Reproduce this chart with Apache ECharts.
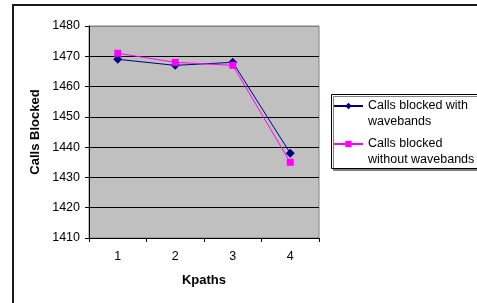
<!DOCTYPE html>
<html>
<head>
<meta charset="utf-8">
<script src="https://cdn.jsdelivr.net/npm/echarts@6/dist/echarts.min.js"></script>
<style>
html,body{margin:0;padding:0;background:#fff;}
#c{width:477px;height:303px;}
</style>
</head>
<body>
<div id="c"></div>
<script>
var categories = ['1', '2', '3', '4'];
var withWavebands = [1469, 1467, 1468, 1438];
var withoutWavebands = [1471, 1468, 1467, 1435];
var seriesNames = ['Calls blocked with\nwavebands', 'Calls blocked\nwithout wavebands'];
var yMin = 1410, yMax = 1480, yStep = 10;
var xTitle = 'Kpaths';
var yTitle = 'Calls Blocked';

var FONT = 'Liberation Sans, Arial, sans-serif';
var chart = echarts.init(document.getElementById('c'), null, {renderer: 'canvas'});
chart.setOption({
  animation: false,
  backgroundColor: '#fff',
  textStyle: {fontFamily: FONT},
  graphic: [
    {type: 'rect', z: 0, silent: true,
     shape: {x: 13, y: 5, width: 480, height: 320},
     style: {fill: 'none', stroke: '#1a1a1a', lineWidth: 2}},
    {type: 'rect', z: 1, silent: true,
     shape: {x: 331.5, y: 94.5, width: 160, height: 74},
     style: {fill: '#fff', stroke: '#000', lineWidth: 1,
             shadowColor: '#808080', shadowOffsetX: 2, shadowOffsetY: 2, shadowBlur: 0}}
  ],
  grid: {left: 89, top: 26, right: 158, bottom: 65, show: true,
         backgroundColor: '#c0c0c0', borderColor: '#808080', borderWidth: 1},
  legend: {
    orient: 'vertical', left: 333, top: 82, padding: 0,
    itemWidth: 29, itemHeight: 8, itemGap: -10,
    selectedMode: false,
    data: seriesNames,
    formatter: function (n) { return ' \n' + n; },
    textStyle: {fontFamily: FONT, fontSize: 12.5, color: '#000', lineHeight: 16}
  },
  xAxis: {
    type: 'category', data: categories, boundaryGap: true,
    name: xTitle, nameLocation: 'middle', nameGap: 36,
    nameTextStyle: {fontFamily: FONT, fontSize: 13, fontWeight: 'bold', color: '#000'},
    axisLine: {lineStyle: {color: '#000', width: 1}},
    axisTick: {show: true, length: 4, inside: false, lineStyle: {color: '#000'}},
    axisLabel: {fontFamily: FONT, fontSize: 12.5, color: '#000', margin: 12},
    splitLine: {show: false}
  },
  yAxis: {
    type: 'value', min: yMin, max: yMax, interval: yStep,
    name: yTitle, nameLocation: 'middle', nameGap: 47, nameRotate: 90,
    nameTextStyle: {fontFamily: FONT, fontSize: 13, fontWeight: 'bold', color: '#000'},
    axisLine: {show: true, lineStyle: {color: '#000', width: 1}},
    axisTick: {show: true, length: 4, inside: false, lineStyle: {color: '#000'}},
    axisLabel: {fontFamily: FONT, fontSize: 12.5, color: '#000', margin: 9,
                formatter: function (v) { return String(v); }},
    splitLine: {show: true, lineStyle: {color: ['#000', '#000', '#000', '#000', '#000', '#000', '#000', '#808080'], width: 1}}
  },
  series: [
    {name: seriesNames[0], type: 'line', data: withWavebands,
     symbol: 'diamond', symbolSize: 9,
     lineStyle: {color: '#000080', width: 1},
     itemStyle: {color: '#000080'}, z: 3},
    {name: seriesNames[1], type: 'line', data: withoutWavebands,
     symbol: 'rect', symbolSize: 7,
     lineStyle: {color: '#ff00ff', width: 1},
     itemStyle: {color: '#ff00ff'}, z: 4}
  ]
});
</script>
</body>
</html>
